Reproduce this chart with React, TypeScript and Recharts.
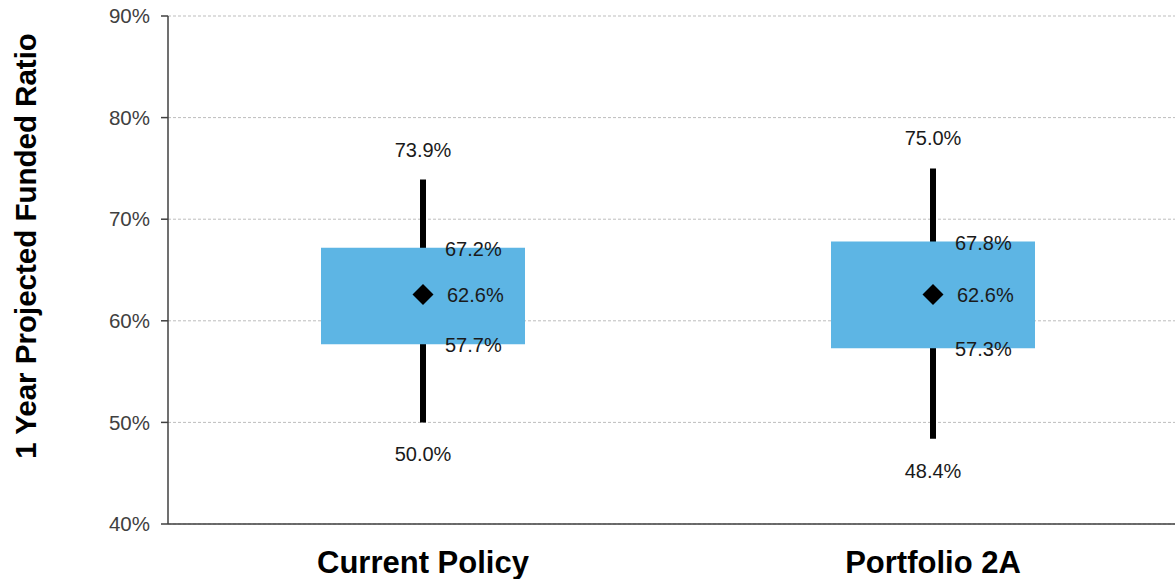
import React from "react";
import {
  ComposedChart,
  Bar,
  Scatter,
  XAxis,
  YAxis,
  CartesianGrid,
  LabelList,
  Label,
} from "recharts";

const categories = ["Current Policy", "Portfolio 2A"];
const minValues = [50.0, 48.4];
const q1Values = [57.7, 57.3];
const meanValues = [62.6, 62.6];
const q3Values = [67.2, 67.8];
const maxValues = [73.9, 75.0];
const yTicks = [40, 50, 60, 70, 80, 90];

const data = categories.map((name, i) => ({
  name,
  min: minValues[i],
  q1: q1Values[i],
  mean: meanValues[i],
  q3: q3Values[i],
  max: maxValues[i],
}));

const fmt = (v: number) => `${v.toFixed(1)}%`;
const LABEL_FONT = "Liberation Sans, Arial, sans-serif";
const LABEL_SIZE = 20;

const WhiskerLabels = (props: any) => {
  const { x, y, width, height, index } = props;
  const top = Math.min(y, y + height);
  const bottom = Math.max(y, y + height);
  const cx = x + width / 2;
  return (
    <g>
      <text x={cx} y={top - 30} textAnchor="middle" dominantBaseline="central" fontSize={LABEL_SIZE} fill="#1a1a1a" fontFamily={LABEL_FONT}>
        {fmt(maxValues[index])}
      </text>
      <text x={cx} y={bottom + 32} textAnchor="middle" dominantBaseline="central" fontSize={LABEL_SIZE} fill="#1a1a1a" fontFamily={LABEL_FONT}>
        {fmt(minValues[index])}
      </text>
    </g>
  );
};

const BoxLabels = (props: any) => {
  const { x, y, width, height, index } = props;
  const top = Math.min(y, y + height);
  const bottom = Math.max(y, y + height);
  const lx = x + width / 2 + 22;
  return (
    <g>
      <text x={lx} y={top + 1} textAnchor="start" dominantBaseline="central" fontSize={LABEL_SIZE} fill="#1a1a1a" fontFamily={LABEL_FONT}>
        {fmt(q3Values[index])}
      </text>
      <text x={lx} y={bottom + 1} textAnchor="start" dominantBaseline="central" fontSize={LABEL_SIZE} fill="#1a1a1a" fontFamily={LABEL_FONT}>
        {fmt(q1Values[index])}
      </text>
    </g>
  );
};

const MeanShape = (props: any) => {
  const { cx, cy, payload } = props;
  const r = 10.5;
  return (
    <g>
      <polygon
        points={`${cx},${cy - r} ${cx + r},${cy} ${cx},${cy + r} ${cx - r},${cy}`}
        fill="#000"
      />
      <text x={cx + 24} y={cy + 1} textAnchor="start" dominantBaseline="central" fontSize={LABEL_SIZE} fill="#1a1a1a" fontFamily={LABEL_FONT}>
        {fmt(payload.mean)}
      </text>
    </g>
  );
};

const YTitle = () => (
  <text
    x={25}
    y={246}
    transform="rotate(-90 25 246)"
    textAnchor="middle"
    dominantBaseline="central"
    fontSize={29.5}
    fontWeight="bold"
    fill="#000"
    fontFamily={LABEL_FONT}
  >
    1 Year Projected Funded Ratio
  </text>
);

export default function App() {
  return (
    <div style={{ width: 1175, height: 579, overflow: "hidden", background: "#fff" }}>
      <style>{`body{margin:0;}`}</style>
      <ComposedChart
        width={1188}
        height={579}
        data={data}
        margin={{ top: 16, right: 0, bottom: 0, left: 0 }}
      >
        <CartesianGrid vertical={false} stroke="#bdbdbd" strokeDasharray="3 2" />
        <XAxis
          dataKey="name"
          xAxisId="main"
          height={55}
          tickLine={false}
          tickSize={0}
          tickMargin={27}
          axisLine={{ stroke: "#404040", strokeWidth: 1.5 }}
          tick={{ fontSize: 31, fontWeight: "bold", fill: "#000", fontFamily: LABEL_FONT }}
        />
        <XAxis dataKey="name" xAxisId="whisker" hide />
        <YAxis
          width={168}
          domain={[40, 90]}
          ticks={yTicks}
          interval={0}
          tickFormatter={(v: number) => `${v}%`}
          tickSize={7}
          tickMargin={11}
          axisLine={{ stroke: "#404040", strokeWidth: 1.5 }}
          tickLine={{ stroke: "#404040", strokeWidth: 1.5 }}
          tick={{ fontSize: 20.5, fill: "#404040", fontFamily: LABEL_FONT }}
        >
          <Label content={<YTitle />} />
        </YAxis>
        <Bar
          xAxisId="whisker"
          dataKey={(d: any) => [d.min, d.max]}
          barSize={6}
          fill="#000"
          isAnimationActive={false}
        >
          <LabelList content={<WhiskerLabels />} />
        </Bar>
        <Bar
          xAxisId="main"
          dataKey={(d: any) => [d.q1, d.q3]}
          barSize={204}
          fill="#5DB5E4"
          isAnimationActive={false}
        >
          <LabelList content={<BoxLabels />} />
        </Bar>
        <Scatter
          xAxisId="main"
          dataKey="mean"
          shape={<MeanShape />}
          isAnimationActive={false}
        />
      </ComposedChart>
    </div>
  );
}
